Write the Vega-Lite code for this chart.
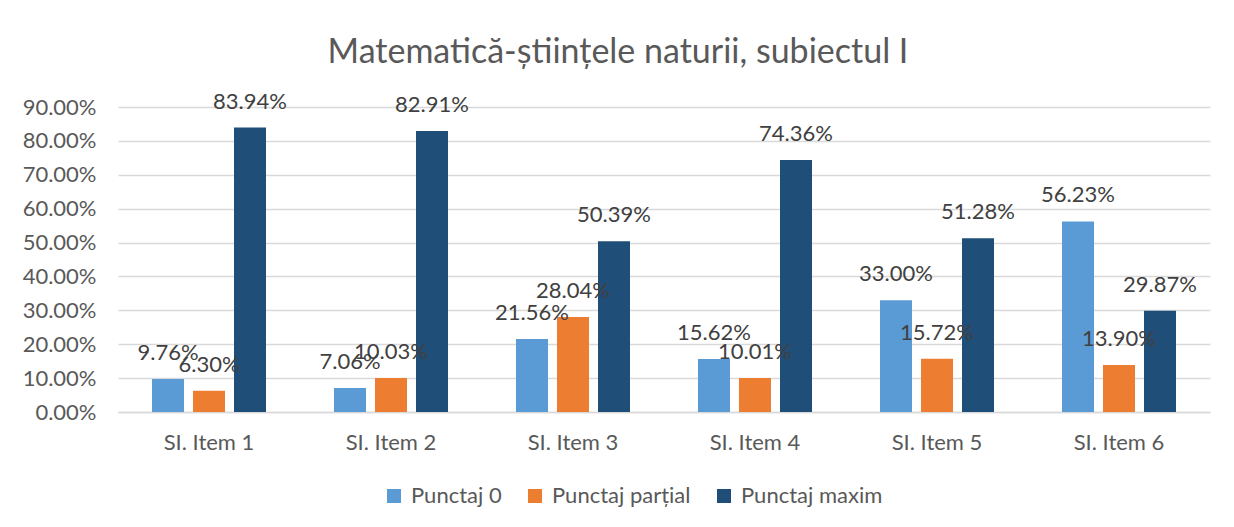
{
  "$schema": "https://vega.github.io/schema/vega-lite/v6.json",
  "width": 1092,
  "height": 305,
  "autosize": {"type": "none"},
  "padding": {"left": 118, "top": 107, "right": 24, "bottom": 115},
  "background": "white",
  "config": {"font": "Lato", "view": {"stroke": null}},
  "title": {
    "text": "Matematică-științele naturii, subiectul I",
    "font": "Lato",
    "fontSize": 34,
    "fontWeight": "normal",
    "color": "#595959",
    "anchor": "middle",
    "dx": -46,
    "offset": 21
  },
  "data": {
    "values": [
      {"item": "SI. Item 1", "series": "Punctaj 0", "value": 0.0976},
      {"item": "SI. Item 1", "series": "Punctaj parțial", "value": 0.063},
      {"item": "SI. Item 1", "series": "Punctaj maxim", "value": 0.8394},
      {"item": "SI. Item 2", "series": "Punctaj 0", "value": 0.0706},
      {"item": "SI. Item 2", "series": "Punctaj parțial", "value": 0.1003},
      {"item": "SI. Item 2", "series": "Punctaj maxim", "value": 0.8291},
      {"item": "SI. Item 3", "series": "Punctaj 0", "value": 0.2156},
      {"item": "SI. Item 3", "series": "Punctaj parțial", "value": 0.2804},
      {"item": "SI. Item 3", "series": "Punctaj maxim", "value": 0.5039},
      {"item": "SI. Item 4", "series": "Punctaj 0", "value": 0.1562},
      {"item": "SI. Item 4", "series": "Punctaj parțial", "value": 0.1001},
      {"item": "SI. Item 4", "series": "Punctaj maxim", "value": 0.7436},
      {"item": "SI. Item 5", "series": "Punctaj 0", "value": 0.33},
      {"item": "SI. Item 5", "series": "Punctaj parțial", "value": 0.1572},
      {"item": "SI. Item 5", "series": "Punctaj maxim", "value": 0.5128},
      {"item": "SI. Item 6", "series": "Punctaj 0", "value": 0.5623},
      {"item": "SI. Item 6", "series": "Punctaj parțial", "value": 0.139},
      {"item": "SI. Item 6", "series": "Punctaj maxim", "value": 0.2987}
    ]
  },
  "encoding": {
    "x": {
      "field": "item",
      "type": "nominal",
      "sort": null,
      "title": null,
      "scale": {"paddingInner": 0, "paddingOuter": 0},
      "axis": {
        "labelAngle": 0,
        "labelFont": "Lato",
        "labelFontSize": 22,
        "labelColor": "#595959",
        "labelPadding": 20,
        "ticks": false,
        "domainColor": "#D9D9D9",
        "domainWidth": 1.5
      }
    },
    "xOffset": {
      "field": "series",
      "type": "nominal",
      "sort": ["Punctaj 0", "Punctaj parțial", "Punctaj maxim"],
      "scale": {"paddingInner": 0.2195, "paddingOuter": 0.829}
    },
    "y": {
      "field": "value",
      "type": "quantitative",
      "title": null,
      "scale": {"domain": [0, 0.9], "nice": false},
      "axis": {
        "format": ".2%",
        "values": [0, 0.1, 0.2, 0.3, 0.4, 0.5, 0.6, 0.7, 0.8, 0.9],
        "labelFont": "Lato",
        "labelFontSize": 22,
        "labelColor": "#595959",
        "labelPadding": 22,
        "ticks": false,
        "domain": false,
        "gridColor": "#D9D9D9",
        "gridWidth": 1.5
      }
    }
  },
  "layer": [
    {
      "mark": {"type": "bar"},
      "encoding": {
        "color": {
          "field": "series",
          "type": "nominal",
          "sort": ["Punctaj 0", "Punctaj parțial", "Punctaj maxim"],
          "scale": {
            "domain": ["Punctaj 0", "Punctaj parțial", "Punctaj maxim"],
            "range": ["#5B9BD5", "#ED7D31", "#1F4E79"]
          },
          "legend": {
            "title": null,
            "orient": "none",
            "direction": "horizontal",
            "legendX": 265,
            "legendY": 378,
            "symbolType": "square",
            "symbolSize": 196,
            "symbolStrokeWidth": 0,
            "labelFont": "Lato",
            "labelFontSize": 22,
            "labelColor": "#595959",
            "columnPadding": 22,
            "labelOffset": 6
          }
        }
      }
    },
    {
      "mark": {"type": "text", "dy": -19, "baseline": "alphabetic", "fontSize": 22, "font": "Lato", "color": "#404040"},
      "encoding": {
        "text": {"field": "value", "type": "quantitative", "format": ".2%"}
      }
    }
  ]
}
